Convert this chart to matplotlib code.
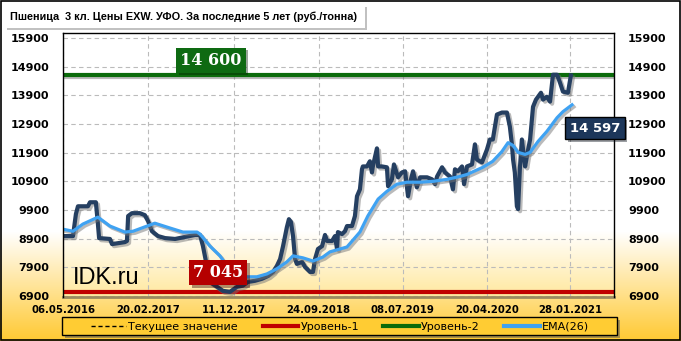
import numpy as np
import pandas as pd
import matplotlib
matplotlib.use("Agg")
import matplotlib.pyplot as plt
import matplotlib.patheffects as pe
from matplotlib.lines import Line2D
from matplotlib.patches import Rectangle

# weekly price (days counted from 06.05.2016)
start = pd.Timestamp("2016-05-06")
price_days = [0, 34, 44, 51, 85, 92, 112, 119, 123, 160, 167, 211, 218, 222, 235, 262, 279, 290, 303, 324,
              348, 382, 416, 450, 467, 477, 501, 525, 545, 569, 593, 613, 630, 654, 678, 699, 716, 729, 740, 750,
              763, 770, 777, 784, 791, 797, 815, 825, 842, 852, 859, 869, 883, 893, 900, 917, 927, 934, 937, 951,
              961, 968, 985, 995, 1002, 1012, 1019, 1022, 1036, 1046, 1053, 1056, 1070, 1074, 1087, 1104, 1108,
              1121, 1128, 1142, 1155, 1166, 1176, 1186, 1193, 1206, 1217, 1241, 1258, 1268, 1275, 1292, 1302,
              1319, 1329, 1336, 1346, 1360, 1367, 1377, 1394, 1404, 1411, 1428, 1445, 1455, 1465, 1479, 1496,
              1513, 1523, 1530, 1534, 1540, 1547, 1551, 1557, 1564, 1568, 1575, 1581, 1592, 1602, 1612, 1619,
              1629, 1636, 1649, 1660, 1670, 1684, 1694, 1704, 1721, 1731]
prices = [8990, 8990, 9760, 10030, 10030, 10170, 10170, 9410, 8920, 8890, 8710, 8780, 8820, 9690, 9790, 9790,
          9720, 9510, 9160, 8990, 8920, 8890, 8960, 9030, 9030, 8640, 7390, 7220, 7080, 7045, 7220, 7260, 7390,
          7430, 7500, 7600, 7740, 7950, 8190, 8640, 9300, 9580, 9480, 8990, 8190, 8020, 8090, 7910, 7740, 7740,
          8190, 8540, 8640, 9030, 8820, 8820, 8990, 8540, 9130, 9060, 9160, 9340, 9340, 9690, 10380, 10620,
          11320, 11420, 11420, 11600, 11210, 11420, 12050, 11420, 11420, 11390, 10730, 10970, 11490, 11040,
          11210, 11250, 10380, 10970, 11250, 10690, 11040, 11040, 10970, 10800, 11070, 11390, 11210, 11070,
          10620, 11320, 11250, 11420, 10800, 11420, 11490, 12190, 11660, 11560, 12010, 12360, 12360, 13230,
          13300, 13300, 12810, 12190, 11660, 11210, 10030, 9930, 11320, 12360, 12010, 11420, 11770, 12360,
          13500, 13750, 13850, 13990, 13750, 13850, 13680, 14620, 14620, 14340, 14030, 13990, 14597]

ema_days = [0, 34, 68, 119, 160, 211, 239, 313, 365, 409, 457, 467, 501, 535, 559, 579, 613, 661, 695, 729,
            763, 784, 818, 852, 886, 910, 968, 1012, 1039, 1074, 1104, 1138, 1172, 1217, 1261, 1309, 1353,
            1377, 1431, 1465, 1496, 1517, 1534, 1551, 1575, 1592, 1619, 1649, 1684, 1704, 1735]
ema = [9230, 9160, 9410, 9650, 9340, 9130, 9160, 9440, 9270, 9130, 9130, 9060, 8640, 8300, 7950, 7740, 7570,
       7570, 7670, 7850, 8090, 8300, 8230, 8120, 8260, 8440, 8610, 9130, 9690, 10280, 10550, 10800, 10870,
       10870, 10900, 10970, 11070, 11140, 11390, 11600, 11940, 12250, 12150, 11910, 11840, 11910, 12290,
       12640, 13120, 13330, 13570]

level_1 = 7045
level_2 = 14600
current = 14597
tick_labels = ["06.05.2016", "20.02.2017", "11.12.2017", "24.09.2018", "08.07.2019", "20.04.2020", "28.01.2021"]
yticks = list(range(6900, 15901, 1000))
title = "Пшеница  3 кл. Цены EXW. УФО. За последние 5 лет (руб./тонна)"
legend_labels = ["Текущее значение", "Уровень-1", "Уровень-2", "EMA(26)"]

x_price = start + pd.to_timedelta(price_days, unit="D")
x_ema = start + pd.to_timedelta(ema_days, unit="D")
x_ticks = pd.to_datetime(tick_labels, format="%d.%m.%Y")

fig = plt.figure(figsize=(6.81, 3.41), dpi=100)

# figure background: white fading into gold at the bottom
rows = np.linspace(0, 1, 341)[:, None]
t = np.clip((rows - 0.68) / 0.32, 0, 1)
gold = np.array([1.0, 0.79, 0.2])
bg_img = (1 - t)[..., None] * np.ones(3) + t[..., None] * gold
bg_img = np.repeat(bg_img, 2, axis=1)
bg = fig.add_axes([0, 0, 1, 1], zorder=-10)
bg.imshow(bg_img, extent=[0, 1, 0, 1], aspect="auto")
bg.set_xlim(0, 1)
bg.set_ylim(0, 1)
bg.axis("off")
fig.patches.append(Rectangle((0.001, 0.002), 0.997, 0.995, transform=fig.transFigure,
                             fill=False, ec="black", lw=1.2))

ax = fig.add_axes([63 / 681, 1 - 297 / 341, 551 / 681, 264 / 341])

# plot area background
t2 = np.clip((rows - 0.75) / 0.25, 0, 1)
pale = np.array([1.0, 0.91, 0.62])
ax_img = (1 - t2)[..., None] * np.ones(3) + t2[..., None] * pale
ax_img = np.repeat(ax_img, 2, axis=1)
ax.imshow(ax_img, extent=[0, 1, 0, 1], transform=ax.transAxes, aspect="auto", zorder=0)

shadow = [pe.SimpleLineShadow(offset=(1.5, -1.5), shadow_color="#777777", alpha=0.5), pe.Normal()]

ax.axhline(current, color="black", lw=1, ls=(0, (3, 2)), zorder=2)
ax.axhline(level_2, color="#0B6B0B", lw=3, zorder=3, path_effects=shadow)
ax.axhline(level_1, color="#C00000", lw=3, zorder=3)
ax.plot(x_price, prices, color="#253F61", lw=3.0, zorder=4, solid_joinstyle="round", path_effects=shadow)
ax.plot(x_ema, ema, color="#3FA2F2", lw=2.3, zorder=5, path_effects=shadow)

ax.set_xlim(start, start + pd.Timedelta(days=1878))
ax.set_ylim(6865, 16075)
ax.set_yticks(yticks)
ax.set_xticks(x_ticks)
ax.set_xticklabels(tick_labels, fontsize=7.3, fontweight="bold")
ax.set_yticklabels([str(v) for v in yticks], fontsize=8, fontweight="bold")
ax.tick_params(axis="y", length=0, pad=10, labelright=True, right=True)
ax.tick_params(axis="x", length=0, pad=6)
ax.grid(True, color="#BBBBBB", ls=(0, (4, 3)), lw=0.8, zorder=1)
for s in ["left", "top", "right"]:
    ax.spines[s].set_linewidth(1)
    ax.spines[s].set_zorder(6)
ax.spines["bottom"].set_color("#9A8A60")
ax.spines["bottom"].set_linewidth(2)

ax.text(0.018, 0.05, "IDK.ru", transform=ax.transAxes, fontsize=17, family="Liberation Sans",
        color="black", zorder=6)

labels_style = dict(color="white", fontweight="bold", ha="center", va="center", zorder=7)
t_green = ax.text(start + pd.Timedelta(days=504), 15130, "14 600", family="DejaVu Serif", fontsize=11.5,
                  bbox=dict(boxstyle="square,pad=0.25", fc="#0E6A12", ec="none"), **labels_style)
t_red = ax.text(start + pd.Timedelta(days=528), 7720, "7 045", family="DejaVu Serif", fontsize=11.5,
                bbox=dict(boxstyle="square,pad=0.25", fc="#B50000", ec="none"), **labels_style)
t_blue = ax.text(0.965, 0.64, "14 597", transform=ax.transAxes, fontsize=9.5, clip_on=False,
                 bbox=dict(boxstyle="square,pad=0.35", fc="#1C365A", ec="black", lw=1), **labels_style)
for tx in (t_green, t_red, t_blue):
    tx.get_bbox_patch().set_path_effects([pe.withSimplePatchShadow(offset=(2, -2), alpha=0.4)])

# title box with shadow
fig.patches.append(Rectangle((7 / 681, 1 - 30 / 341), 360 / 681, 23 / 341, transform=fig.transFigure,
                             fc="#999999", ec="none", alpha=0.6))
fig.patches.append(Rectangle((5 / 681, 1 - 28 / 341), 360 / 681, 23 / 341, transform=fig.transFigure,
                             fc="white", ec="none"))
fig.text(10 / 681, 1 - 17 / 341, title, fontsize=7.8, fontweight="bold", family="Liberation Sans",
         va="center", ha="left")

# legend box drawn by hand so it spans the plot width
fig.patches.append(Rectangle((65 / 681, 1 - 338 / 341), 555 / 681, 18 / 341, transform=fig.transFigure,
                             fc="#555555", ec="none", alpha=0.5))
fig.patches.append(Rectangle((62 / 681, 1 - 335 / 341), 555 / 681, 18 / 341, transform=fig.transFigure,
                             fc="#FFCC33", ec="black", lw=1))
handles = [Line2D([], [], color="black", lw=1, ls=(0, (3, 2))),
           Line2D([], [], color="#C00000", lw=3),
           Line2D([], [], color="#0B6B0B", lw=3),
           Line2D([], [], color="#3FA2F2", lw=3)]
leg = fig.legend(handles, legend_labels, loc="center", ncol=4, fontsize=8, frameon=False,
                 bbox_to_anchor=(340 / 681, 1 - 326.5 / 341), handlelength=3.2,
                 handletextpad=0.2, columnspacing=2.2, borderpad=0.25)

fig.savefig("out.png", dpi=100)
